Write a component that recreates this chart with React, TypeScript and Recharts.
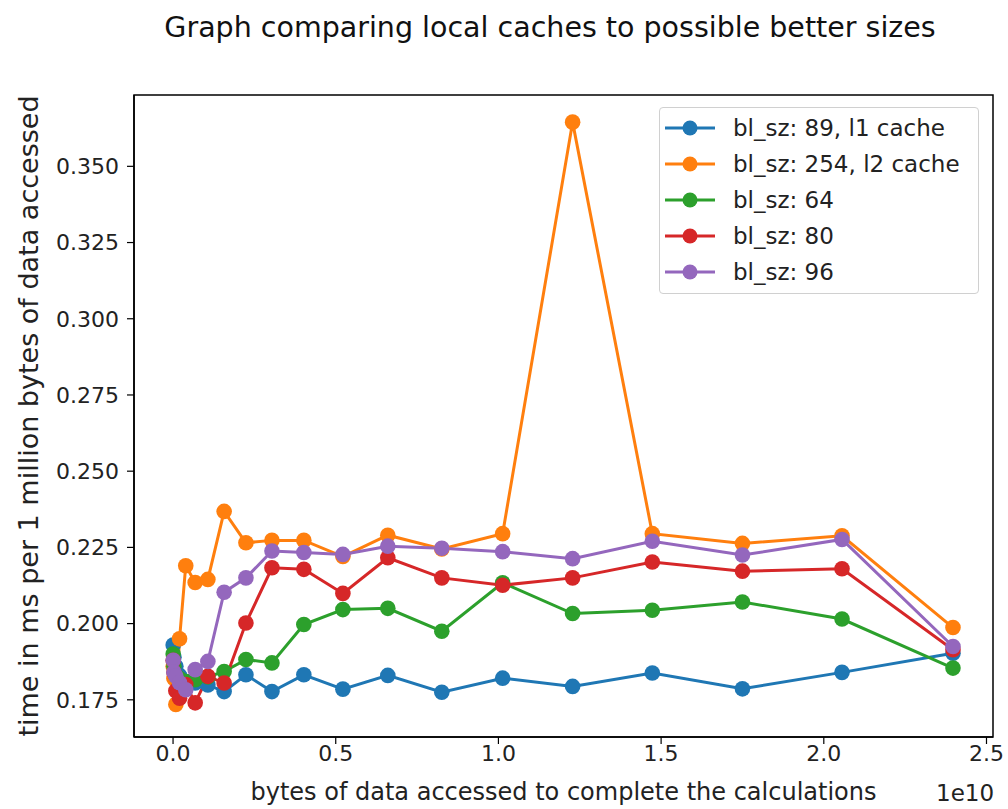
import { LineChart, Line, XAxis, YAxis, ReferenceArea } from 'recharts';

// x positions in units of 1e10 bytes accessed
const bytesE10 = [
  0.0004, 0.0027, 0.0086, 0.02, 0.039, 0.068, 0.107, 0.157, 0.224, 0.304,
  0.402, 0.522, 0.66, 0.826, 1.013, 1.228, 1.473, 1.75, 2.056, 2.397,
];

// time in ms per 1 million bytes, one list per block size
const bl89 = [
  0.193, 0.189, 0.186, 0.183, 0.181, 0.1805, 0.1799, 0.1777, 0.1832, 0.1777,
  0.1832, 0.1785, 0.183, 0.1775, 0.1821, 0.1794, 0.1838, 0.1786, 0.184, 0.1903,
];
const bl254 = [
  0.186, 0.182, 0.1735, 0.195, 0.219, 0.2135, 0.2145, 0.2368, 0.2265, 0.2273,
  0.2273, 0.222, 0.229, 0.2245, 0.2295, 0.3645, 0.2295, 0.2263, 0.2288, 0.1987,
];
const bl64 = [
  0.19, 0.186, 0.183, 0.182, 0.181, 0.1816, 0.1825, 0.1843, 0.1882, 0.1871,
  0.1997, 0.2046, 0.205, 0.1975, 0.2134, 0.2033, 0.2044, 0.2071, 0.2015, 0.1854,
];
const bl80 = [
  0.188, 0.184, 0.178, 0.1755, 0.18, 0.174, 0.1827, 0.1805, 0.2002, 0.2183,
  0.2178, 0.2099, 0.2216, 0.215, 0.2126, 0.215, 0.2202, 0.2172, 0.218, 0.1914,
];
const bl96 = [
  0.188, 0.184, 0.1827, 0.1806, 0.1783, 0.1849, 0.1876, 0.2103, 0.215, 0.2238,
  0.2233, 0.2227, 0.2254, 0.2247, 0.2236, 0.2213, 0.227, 0.2225, 0.2276, 0.1925,
];

const xTicks = [0, 0.5, 1.0, 1.5, 2.0, 2.5];
const yTicks = [0.175, 0.2, 0.225, 0.25, 0.275, 0.3, 0.325, 0.35];

const series = [
  { key: 'bl89', name: 'bl_sz: 89, l1 cache', color: '#1f77b4', values: bl89 },
  { key: 'bl254', name: 'bl_sz: 254, l2 cache', color: '#ff7f0e', values: bl254 },
  { key: 'bl64', name: 'bl_sz: 64', color: '#2ca02c', values: bl64 },
  { key: 'bl80', name: 'bl_sz: 80', color: '#d62728', values: bl80 },
  { key: 'bl96', name: 'bl_sz: 96', color: '#9467bd', values: bl96 },
];

const data = bytesE10.map((x, i) => {
  const row: any = { x };
  series.forEach((s) => (row[s.key] = s.values[i]));
  return row;
});

const X_DOMAIN = [-0.12, 2.52];
const Y_DOMAIN = [0.1628, 0.3734];
const FONT = '"DejaVu Sans", sans-serif';
const TEXT = '#222';

// matplotlib style legend box, upper right inside the axes
function LegendBox() {
  return (
    <div
      style={{
        position: 'absolute',
        left: 659,
        top: 107,
        width: 320,
        height: 187,
        border: '1.5px solid #d0d0d0',
        borderRadius: 4,
        background: 'rgba(255,255,255,0.8)',
        fontFamily: FONT,
        fontSize: 23,
        color: TEXT,
        boxSizing: 'border-box',
        paddingTop: 2,
      }}
    >
      {series.map((s) => (
        <div key={s.key} style={{ display: 'flex', alignItems: 'center', height: 36 }}>
          <svg width={52} height={20} style={{ marginLeft: 5 }}>
            <line x1={0} y1={10} x2={50} y2={10} stroke={s.color} strokeWidth={3} />
            <circle cx={25} cy={10} r={7.5} fill={s.color} />
          </svg>
          <span style={{ marginLeft: 16, whiteSpace: 'nowrap' }}>{s.name}</span>
        </div>
      ))}
    </div>
  );
}

export default function App() {
  return (
    <div style={{ position: 'absolute', left: 0, top: 0, width: 1008, height: 809, background: '#fff' }}>
      <LineChart
        width={1008}
        height={809}
        data={data}
        margin={{ top: 95, right: 15, bottom: 0, left: 8 }}
      >
        <XAxis
          dataKey="x"
          type="number"
          domain={X_DOMAIN}
          ticks={xTicks}
          tickFormatter={(v) => v.toFixed(1)}
          height={72}
          tickSize={7}
          tickMargin={1}
          allowDataOverflow
          axisLine={{ stroke: '#000', strokeWidth: 1.5 }}
          tickLine={{ stroke: '#000', strokeWidth: 1.2 }}
          tick={{ fill: TEXT, fontSize: 22, fontFamily: FONT }}
          label={{
            value: 'bytes of data accessed to complete the calculations',
            position: 'insideBottom',
            offset: 9,
            style: { fill: TEXT, fontSize: 24, fontFamily: FONT },
          }}
        />
        <YAxis
          type="number"
          domain={Y_DOMAIN}
          ticks={yTicks}
          tickFormatter={(v) => v.toFixed(3)}
          width={126}
          tickSize={7}
          tickMargin={8}
          allowDataOverflow
          axisLine={{ stroke: '#000', strokeWidth: 1.5 }}
          tickLine={{ stroke: '#000', strokeWidth: 1.2 }}
          tick={{ fill: TEXT, fontSize: 22, fontFamily: FONT }}
          label={{
            value: 'time in ms per 1 million bytes of data accessed',
            angle: -90,
            position: 'insideLeft',
            offset: 20,
            style: { fill: TEXT, fontSize: 27, fontFamily: FONT, textAnchor: 'middle' },
          }}
        />
        <ReferenceArea
          x1={X_DOMAIN[0]}
          x2={X_DOMAIN[1]}
          y1={Y_DOMAIN[0]}
          y2={Y_DOMAIN[1]}
          fill="none"
          stroke="#000"
          strokeWidth={1.5}
          fillOpacity={0}
        />
        {series.map((s) => (
          <Line
            key={s.key}
            dataKey={s.key}
            name={s.name}
            stroke={s.color}
            strokeWidth={3}
            dot={{ r: 7.8, fill: s.color, stroke: s.color, strokeWidth: 0 }}
            activeDot={false}
            isAnimationActive={false}
          />
        ))}
      </LineChart>
      <div
        style={{
          position: 'absolute',
          top: 11,
          left: 95,
          width: 910,
          textAlign: 'center',
          fontFamily: FONT,
          fontSize: 28.5,
          color: '#111',
        }}
      >
        Graph comparing local caches to possible better sizes
      </div>
      <div
        style={{
          position: 'absolute',
          top: 780,
          left: 936,
          fontFamily: FONT,
          fontSize: 23,
          color: TEXT,
        }}
      >
        1e10
      </div>
      <LegendBox />
    </div>
  );
}
